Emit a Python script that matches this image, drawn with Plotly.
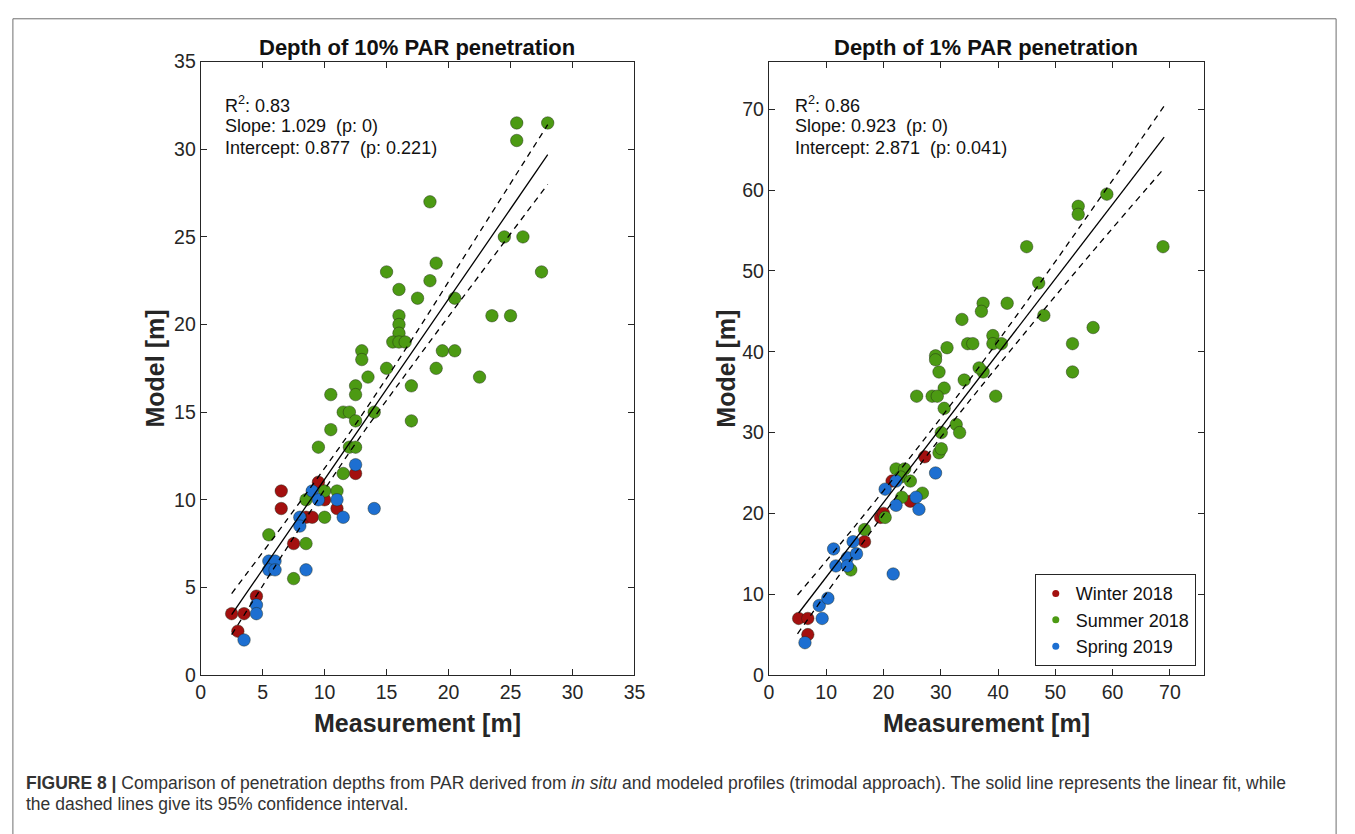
import plotly.graph_objects as go

# ---------------- data: left panel (10% PAR depth) ----------------
L_winter_x = [2.5, 3.5, 3.0, 4.5, 6.5, 6.5, 7.5, 9.5, 8.5, 9.0, 10.0, 11.0, 12.5]
L_winter_y = [3.5, 3.5, 2.5, 4.5, 10.5, 9.5, 7.5, 11.0, 9.0, 9.0, 10.0, 9.5, 11.5]

L_summer_x = [5.5, 7.5, 8.5, 8.5, 10.0, 10.0, 11.0, 11.5, 9.5, 10.5, 10.5, 11.5, 12.0, 12.0, 12.5,
              12.5, 12.5, 12.5, 13.5, 14.0, 17.0, 17.0, 15.0, 19.0, 13.0, 13.0, 18.5, 15.0, 19.0, 18.5,
              16.0, 17.5, 16.0, 16.0, 16.0, 15.5, 16.0, 16.5, 25.5, 28.0, 25.5, 24.5, 26.0, 27.5, 20.5,
              23.5, 25.0, 19.5, 20.5, 22.5]
L_summer_y = [8.0, 5.5, 7.5, 10.0, 10.5, 9.0, 10.5, 11.5, 13.0, 14.0, 16.0, 15.0, 15.0, 13.0, 13.0,
              14.5, 16.5, 16.0, 17.0, 15.0, 16.5, 14.5, 17.5, 17.5, 18.5, 18.0, 27.0, 23.0, 23.5, 22.5,
              22.0, 21.5, 20.5, 20.0, 19.5, 19.0, 19.0, 19.0, 31.5, 31.5, 30.5, 25.0, 25.0, 23.0, 21.5,
              20.5, 20.5, 18.5, 18.5, 17.0]

L_spring_x = [3.5, 4.5, 4.5, 5.5, 6.0, 5.5, 6.0, 8.5, 8.0, 8.0, 9.0, 9.5, 11.0, 11.5, 12.5, 14.0]
L_spring_y = [2.0, 4.0, 3.5, 6.5, 6.5, 6.0, 6.0, 6.0, 9.0, 8.5, 10.5, 10.0, 10.0, 9.0, 12.0, 9.5]

L_slope, L_intercept = 1.029, 0.877
L_fit_x = [2.5, 28.0]
L_ci_x = [2.5, 7.0, 12.0, 17.0, 22.0, 28.0]
L_ci_upper = [4.65, 8.9, 13.8, 19.1, 24.7, 31.4]
L_ci_lower = [2.3, 7.3, 12.7, 17.6, 22.35, 28.0]
L_stats = ["R<sup>2</sup>: 0.83", "Slope: 1.029  (p: 0)", "Intercept: 0.877  (p: 0.221)"]

# ---------------- data: right panel (1% PAR depth) ----------------
R_winter_x = [5.2, 6.8, 6.8, 16.7, 19.5, 20.0, 21.5, 24.7, 27.2]
R_winter_y = [7.0, 7.0, 5.0, 16.5, 19.5, 20.0, 24.0, 21.5, 27.0]

R_summer_x = [14.3, 16.7, 20.3, 22.2, 23.7, 23.0, 24.7, 23.2, 26.8, 29.7, 30.1, 30.1, 32.7, 33.3,
              30.6, 30.6, 25.8, 28.5, 29.4, 34.1, 29.7, 37.4, 39.6, 37.4, 37.1, 41.6, 33.7, 39.1,
              39.1, 40.6, 34.7, 35.6, 31.1, 29.1, 29.1, 36.7, 59.0, 54.0, 54.0, 45.0, 68.8, 47.1,
              48.0, 56.6, 53.0, 53.0]
R_summer_y = [13.0, 18.0, 19.5, 25.5, 25.5, 24.5, 24.0, 22.0, 22.5, 27.5, 28.0, 30.0, 31.0, 30.0,
              33.0, 35.5, 34.5, 34.5, 34.5, 36.5, 37.5, 37.5, 34.5, 46.0, 45.0, 46.0, 44.0, 42.0,
              41.0, 41.0, 41.0, 41.0, 40.5, 39.5, 39.0, 38.0, 59.5, 58.0, 57.0, 53.0, 53.0, 48.5,
              44.5, 43.0, 41.0, 37.5]

R_spring_x = [6.3, 8.8, 10.3, 9.3, 11.3, 11.7, 13.7, 13.7, 14.7, 15.3, 20.3, 22.2, 22.2, 21.7,
              25.7, 26.2, 29.1]
R_spring_y = [4.0, 8.6, 9.5, 7.0, 15.6, 13.5, 14.5, 13.5, 16.5, 15.0, 23.0, 24.0, 21.0, 12.5,
              22.0, 20.5, 25.0]

R_slope, R_intercept = 0.923, 2.871
R_fit_x = [5.2, 69.0]
R_ci_x = [5.0, 15.0, 30.0, 45.0, 57.0, 69.0]
R_ci_upper = [9.9, 18.4, 31.8, 46.2, 58.2, 70.4]
R_ci_lower = [5.1, 15.0, 29.4, 42.6, 52.8, 62.7]
R_stats = ["R<sup>2</sup>: 0.86", "Slope: 0.923  (p: 0)", "Intercept: 2.871  (p: 0.041)"]

series_names = ["Winter 2018", "Summer 2018", "Spring 2019"]
series_colors = ["#a3100f", "#4c9a13", "#1d6fd1"]

titles = ["Depth of 10% PAR penetration", "Depth of 1% PAR penetration"]
x_title = "Measurement [m]"
y_title = "Model [m]"
caption1 = ("<b>FIGURE 8 |</b> Comparison of penetration depths from PAR derived from <i>in situ</i> "
            "and modeled profiles (trimodal approach). The solid line represents the linear fit, while")
caption2 = "the dashed lines give its 95% confidence interval."

# ---------------- figure ----------------
W, H = 1355, 834
FONT = "Liberation Sans, Arial, sans-serif"
AX = "#262626"

def px_x(p):
    return p / W

def px_y(p):
    return 1 - p / H

fig = go.Figure()

panels = [
    dict(xa="x", ya="y", data=[(L_winter_x, L_winter_y), (L_summer_x, L_summer_y), (L_spring_x, L_spring_y)],
         slope=L_slope, icpt=L_intercept, fx=L_fit_x, cx=L_ci_x, cu=L_ci_upper, cl=L_ci_lower),
    dict(xa="x2", ya="y2", data=[(R_winter_x, R_winter_y), (R_summer_x, R_summer_y), (R_spring_x, R_spring_y)],
         slope=R_slope, icpt=R_intercept, fx=R_fit_x, cx=R_ci_x, cu=R_ci_upper, cl=R_ci_lower),
]

for p in panels:
    for (sx, sy), col, name in zip(p["data"], series_colors, series_names):
        fig.add_trace(go.Scatter(
            x=sx, y=sy, mode="markers", xaxis=p["xa"], yaxis=p["ya"], showlegend=False, name=name,
            marker=dict(size=12.5, color=col, line=dict(color="rgba(30,40,20,0.55)", width=0.8))))
    fy = [p["slope"] * v + p["icpt"] for v in p["fx"]]
    fig.add_trace(go.Scatter(x=p["fx"], y=fy, mode="lines", xaxis=p["xa"], yaxis=p["ya"],
                             showlegend=False, line=dict(color="black", width=1.3)))
    for band in (p["cu"], p["cl"]):
        fig.add_trace(go.Scatter(x=p["cx"], y=band, mode="lines", xaxis=p["xa"], yaxis=p["ya"],
                                 line_shape="spline", showlegend=False,
                                 line=dict(color="black", width=1.3, dash="6px,5px")))

# legend-only traces (small dots)
for col, name in zip(series_colors, series_names):
    fig.add_trace(go.Scatter(x=[None], y=[None], mode="markers", xaxis="x2", yaxis="y2", name=name,
                             marker=dict(size=7, color=col), showlegend=True))

axis_common = dict(showline=True, linecolor=AX, linewidth=1, mirror="ticks", ticks="inside",
                   ticklen=6, tickcolor=AX, tickwidth=1, showgrid=False, zeroline=False,
                   tickfont=dict(family=FONT, size=19.5, color=AX))

ydom = [px_y(682), px_y(52)]
fig.update_layout(
    width=W, height=H, margin=dict(l=0, r=0, t=0, b=0),
    paper_bgcolor="white", plot_bgcolor="white",
    font=dict(family=FONT, color=AX),
    xaxis=dict(domain=[px_x(198), px_x(637)], range=[0, 35], tickvals=list(range(0, 36, 5)),
               anchor="y", **axis_common),
    yaxis=dict(domain=ydom, range=[0, 35], tickvals=list(range(0, 36, 5)), anchor="x",
               **axis_common),
    xaxis2=dict(domain=[px_x(773), px_x(1213)], range=[0, 75.9], tickvals=list(range(0, 71, 10)),
                anchor="y2", **axis_common),
    yaxis2=dict(domain=ydom, range=[0, 75.9], tickvals=list(range(0, 71, 10)), anchor="x2",
                **axis_common),
    legend=dict(x=px_x(1205), y=px_y(673), xanchor="right", yanchor="bottom",
                bgcolor="white", bordercolor=AX, borderwidth=1,
                font=dict(family=FONT, size=18, color="#111"), tracegroupgap=0,
                itemsizing="trace"),
    showlegend=True,
)

ann = []
for cx, t in zip([417, 993], titles):
    ann.append(dict(x=px_x(cx), y=px_y(37), xref="paper", yref="paper", text=f"<b>{t}</b>",
                    showarrow=False, xanchor="center", yanchor="middle",
                    font=dict(family=FONT, size=22, color="#111")))
for cx in [417, 993]:
    ann.append(dict(x=px_x(cx), y=px_y(731), xref="paper", yref="paper", text=f"<b>{x_title}</b>",
                    showarrow=False, xanchor="center", yanchor="middle",
                    font=dict(family=FONT, size=25, color=AX)))
for cx in [152, 730]:
    ann.append(dict(x=px_x(cx), y=px_y(367), xref="paper", yref="paper", text=f"<b>{y_title}</b>",
                    showarrow=False, xanchor="center", yanchor="middle", textangle=-90,
                    font=dict(family=FONT, size=25, color=AX)))
for lx, stats in zip([221, 797], [L_stats, R_stats]):
    for ly, s in zip([96, 118, 141], stats):
        ann.append(dict(x=px_x(lx), y=px_y(ly), xref="paper", yref="paper", text=s,
                        showarrow=False, xanchor="left", yanchor="middle",
                        font=dict(family=FONT, size=18, color="#111")))
for ly, s in zip([793, 814], [caption1, caption2]):
    ann.append(dict(x=px_x(19), y=px_y(ly), xref="paper", yref="paper", text=s,
                    showarrow=False, xanchor="left", yanchor="middle",
                    font=dict(family=FONT, size=17.5, color="#333")))
fig.update_layout(annotations=ann)

# outer frame of the journal figure
fig.add_shape(type="rect", xref="paper", yref="paper", x0=px_x(8), x1=px_x(1347),
              y0=-0.05, y1=px_y(8), line=dict(color="#6e6e6e", width=1))

fig.write_html(
    "out.html",
    config={"displayModeBar": False},
    post_script="document.body.style.margin='0';",
)
